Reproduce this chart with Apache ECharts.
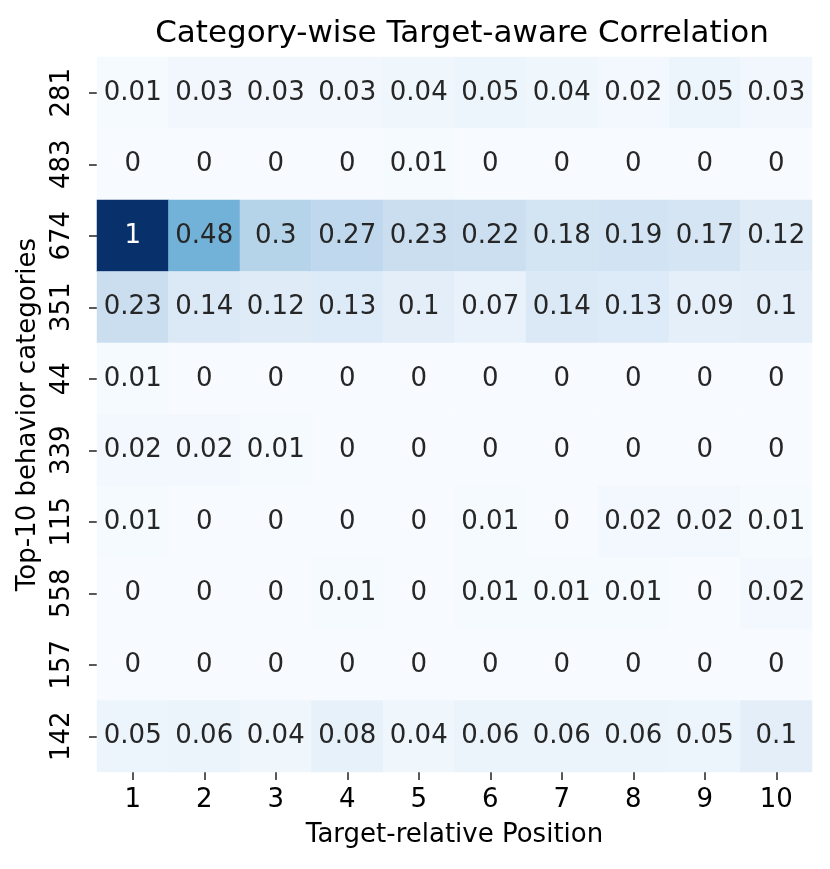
<!DOCTYPE html>
<html>
<head>
<meta charset="utf-8">
<script src="https://cdn.jsdelivr.net/npm/echarts@6/dist/echarts.min.js"></script>
<style>html,body{margin:0;padding:0;background:#fff}#c{width:830px;height:869px}</style>
</head>
<body>
<div id="c"></div>
<script>
var positions = ['1','2','3','4','5','6','7','8','9','10'];
var categories = ['281','483','674','351','44','339','115','558','157','142'];
var row281 = [0.01,0.03,0.03,0.03,0.04,0.05,0.04,0.02,0.05,0.03];
var row483 = [0,0,0,0,0.01,0,0,0,0,0];
var row674 = [1,0.48,0.3,0.27,0.23,0.22,0.18,0.19,0.17,0.12];
var row351 = [0.23,0.14,0.12,0.13,0.1,0.07,0.14,0.13,0.09,0.1];
var row44  = [0.01,0,0,0,0,0,0,0,0,0];
var row339 = [0.02,0.02,0.01,0,0,0,0,0,0,0];
var row115 = [0.01,0,0,0,0,0.01,0,0.02,0.02,0.01];
var row558 = [0,0,0,0.01,0,0.01,0.01,0.01,0,0.02];
var row157 = [0,0,0,0,0,0,0,0,0,0];
var row142 = [0.05,0.06,0.04,0.08,0.04,0.06,0.06,0.06,0.05,0.1];
var rows = [row281,row483,row674,row351,row44,row339,row115,row558,row157,row142];

var data = [];
rows.forEach(function(r, yi){
  r.forEach(function(v, xi){
    data.push({value:[xi, yi, v], label:{color: v > 0.6 ? '#ffffff' : '#262626'}});
  });
});
var FONT = 'DejaVu Sans';
var chart = echarts.init(document.getElementById('c'), null, {renderer:'canvas'});
chart.setOption({
  backgroundColor:'#ffffff',
  animation:false,
  title:{text:'Category-wise Target-aware Correlation', left:457, top:13, textAlign:'center',
    textStyle:{fontFamily:FONT, fontSize:31, fontWeight:'normal', color:'#000'}},
  grid:{left:97, right:18, top:57, bottom:97},
  xAxis:{type:'category', data:positions, name:'Target-relative Position', nameLocation:'middle', nameGap:50,
    nameTextStyle:{fontFamily:FONT, fontSize:26, color:'#000'},
    axisLine:{show:false}, splitLine:{show:false},
    axisTick:{show:true, alignWithLabel:true, length:8, lineStyle:{color:'#222', width:1.5}},
    axisLabel:{fontFamily:FONT, fontSize:26, color:'#000', margin:15}},
  yAxis:{type:'category', data:categories, inverse:true, name:'Top-10 behavior categories', nameLocation:'middle', nameGap:53,
    nameTextStyle:{fontFamily:FONT, fontSize:26, color:'#000'},
    axisLine:{show:false}, splitLine:{show:false},
    axisTick:{show:true, alignWithLabel:true, length:8, lineStyle:{color:'#222', width:1.5}},
    axisLabel:{fontFamily:FONT, fontSize:26, color:'#000', margin:22, rotate:90}},
  visualMap:{show:false, min:0, max:1, dimension:2, calculable:false,
    inRange:{color:['#f7fbff','#deebf7','#c6dbef','#9ecae1','#6baed6','#4292c6','#2171b5','#08519c','#08306b']}},
  series:[{type:'heatmap', data:data,
    label:{show:true, fontFamily:FONT, fontSize:26, formatter:function(p){return String(p.value[2]);}},
    itemStyle:{borderWidth:0}}]
});
</script>
</body>
</html>
